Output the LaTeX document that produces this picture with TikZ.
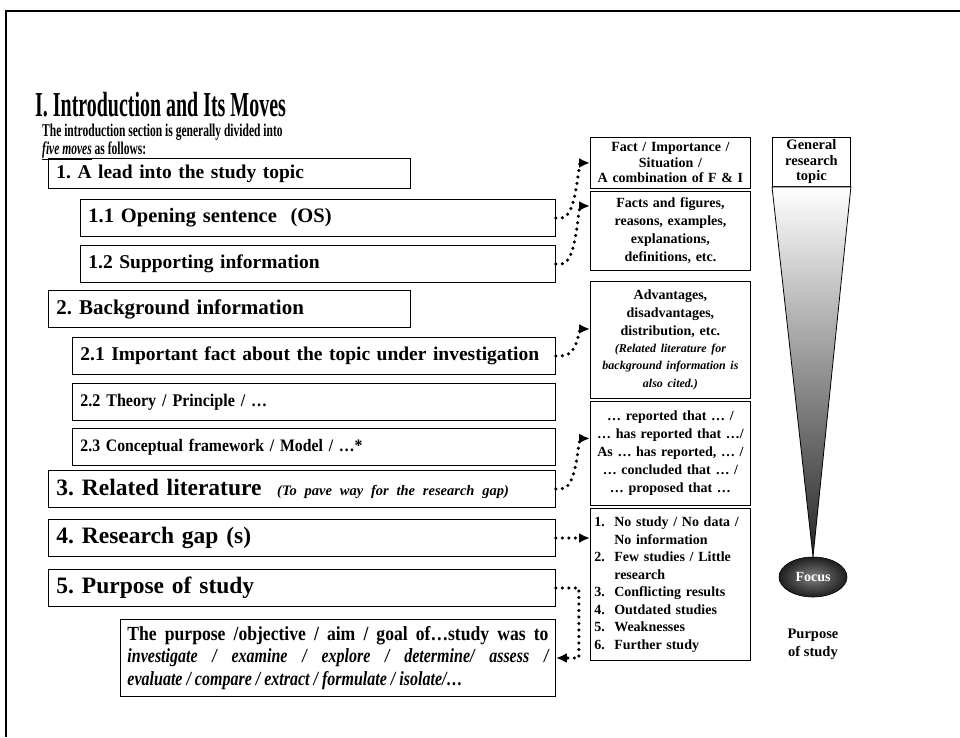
\documentclass[tikz,border=0pt]{standalone}
\usepackage{fontspec}
\setmainfont{Liberation Serif}
\newfontfamily\narrowtitle{Liberation Serif}[FakeStretch=0.57]
\newfontfamily\narrowintro{Liberation Serif}[FakeStretch=0.64]
\newfontfamily\narrowsub{Liberation Serif}[FakeStretch=0.9]
\newfontfamily\narrowaim{Liberation Serif}[FakeStretch=0.88]
\newfontfamily\narrowaimit{Liberation Serif}[FakeStretch=0.8]
\frenchspacing
\usetikzlibrary{arrows.meta,shapes.geometric}

\tikzset{
  movebox/.style={draw, line width=0.9pt, anchor=west, minimum height=37pt, inner xsep=8pt, inner ysep=0pt, align=left, font=\fontsize{23.5}{26}\selectfont\bfseries},
  subbox/.style={movebox, font=\fontsize{19.5}{22}\selectfont\bfseries},
  sidebox/.style={draw, line width=0.9pt, anchor=north west, text width=152pt, inner xsep=4pt, inner ysep=0pt, align=center, font=\fontsize{14}{18}\selectfont\bfseries},
  dotlink/.style={line width=3.5pt, line cap=round, dash pattern=on 0pt off 6.5pt, -{Latex[length=11pt,width=10pt]}},
}

\begin{document}
\begin{tikzpicture}[x=1pt,y=-1pt]
        \useasboundingbox (0,0) rectangle (960,737);
        \draw[line width=2pt] (6,737) -- (6,11) -- (960,11);

        \node[anchor=base west, inner sep=0pt, font=\fontsize{35}{40}\narrowtitle\bfseries] (title) at (35,116) {I. Introduction and Its Moves};
        \node[anchor=north west, inner sep=0pt, align=left, font=\fontsize{18}{16.5}\narrowintro\bfseries] (intro) at (42,124) {The introduction section is generally divided into\\ \underline{\textit{five moves}} as follows:};

        % moves on the left
        \node[movebox, text width=346pt, minimum height=30pt, font=\fontsize{19.5}{22}\selectfont\bfseries] (lead) at (48,173.5) {1. A lead into the study topic};
        \node[subbox, text width=459pt, font=\fontsize{20.5}{22}\selectfont\bfseries] (open) at (80,218) {1.1 Opening sentence~ (OS)};
        \node[subbox, text width=459pt] (supp) at (80,264) {1.2 Supporting information};
        \node[movebox, text width=346pt, font=\fontsize{21}{24}\selectfont\bfseries] (back) at (48,309) {2. Background information};
        \node[subbox, text width=467pt] (fact) at (72,356) {2.1 Important fact about the topic under investigation};
        \node[subbox, text width=467pt, font=\fontsize{17.8}{20}\narrowsub\bfseries] (theo) at (72,402) {2.2 Theory / Principle / \dots};
        \node[subbox, text width=467pt, font=\fontsize{17.5}{20}\narrowsub\bfseries] (frame) at (72,447) {2.3 Conceptual framework / Model / \dots*};
        \node[movebox, text width=491pt] (lit) at (48,489) {3. Related literature~ {\fontsize{14.5}{16}\selectfont\itshape (To pave way for the research gap)}};
        \node[movebox, text width=491pt] (gap) at (48,538) {4. Research gap (s)};
        \node[movebox, text width=491pt] (purp) at (48,588) {5. Purpose of study};
        \node[movebox, text width=421pt, inner xsep=7pt, minimum height=77pt, align=justify, font=\fontsize{20}{22.5}\narrowaim\bfseries] (aim) at (120,658) {The purpose /objective / aim / goal of\dots study was to\linebreak \narrowaimit\itshape investigate / examine / explore / determine/ assess /\linebreak evaluate / compare / extract / formulate / isolate/\dots};

        % examples on the right
        \node[sidebox, minimum height=51pt, font=\fontsize{14}{15.5}\selectfont\bfseries] (sa) at (590,137) {Fact / Importance /\\ Situation /\\ A combination of F \& I};
        \node[sidebox, minimum height=79pt] (sb) at (590,191) {Facts and figures,\\ reasons, examples,\\ explanations,\\ definitions, etc.};
        \node[sidebox, minimum height=117pt] (sc) at (590,281) {Advantages,\\ disadvantages,\\ distribution, etc.\\ {\fontsize{12}{17}\selectfont\itshape (Related literature for\\ background information is\\ also cited.)}};
        \node[sidebox, minimum height=104pt] (sd) at (590,401) {\dots{} reported that \dots{} /\\ \dots{} has reported that \dots/\\ As \dots{} has reported, \dots{} /\\ \dots{} concluded that \dots{} /\\ \dots{} proposed that \dots};
        \node[sidebox, minimum height=152pt, align=left, font=\fontsize{14}{17.5}\selectfont\bfseries] (se) at (590,508) {1.\ \ No study / No data /\\ \phantom{1.\ \ }No information\\ 2.\ \ Few studies / Little\\ \phantom{2.\ \ }research\\ 3.\ \ Conflicting results\\ 4.\ \ Outdated studies\\ 5.\ \ Weaknesses\\ 6.\ \ Further study};

        % funnel
        \node[draw, line width=0.9pt, anchor=north west, text width=70pt, inner xsep=4pt, inner ysep=0pt, minimum height=49pt, align=center, font=\fontsize{14.5}{15.5}\selectfont\bfseries] (topic) at (772,137) {General\\ research\\ topic};
        \node[ellipse, draw, line width=0.6pt, inner color=black!50, outer color=black!88, minimum width=68pt, minimum height=40pt, text=white, font=\fontsize{14}{16}\selectfont\bfseries] (focus) at (813,577) {Focus};
        \shadedraw[line width=0.8pt, top color=white, middle color=black!6, bottom color=black!85] (topic.south west) -- (topic.south east) -- (focus.north) -- cycle;
        \node[align=center, font=\fontsize{14.5}{18}\selectfont\bfseries] (goal) at (813,644) {Purpose\\ of study};

        % dotted links
        \draw[dotlink] (open.east) -- ++(5,0) .. controls +(14,0) and +(-3,16) .. ([xshift=-10pt]sa.west) -- (sa.west);
        \draw[dotlink] (supp.east) -- ++(5,0) .. controls +(14,0) and +(-3,16) .. ([xshift=-10pt,yshift=25pt]sb.west) -- ([yshift=25pt]sb.west);
        \draw[dotlink] (fact.east) -- ++(5,0) .. controls +(14,0) and +(-3,12) .. ([xshift=-10pt,yshift=11pt]sc.west) -- ([yshift=11pt]sc.west);
        \draw[dotlink] (lit.east) -- ++(5,0) .. controls +(14,0) and +(-3,16) .. ([xshift=-10pt,yshift=15pt]sd.west) -- ([yshift=15pt]sd.west);
        \draw[dotlink] (gap.east) -- (gap.east -| se.west);
        \draw[dotlink] (purp.east) -- ++(23,0) |- (aim.east);

    \end{tikzpicture}
\end{document}
